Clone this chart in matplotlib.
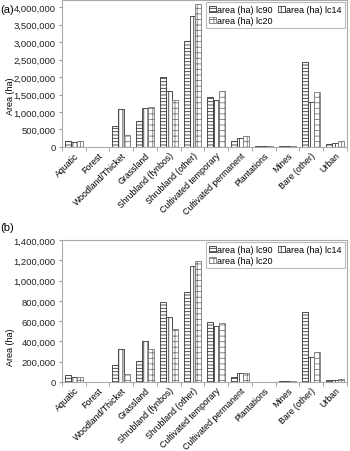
import matplotlib
matplotlib.use("Agg")
import matplotlib.pyplot as plt
import numpy as np
from matplotlib.ticker import FuncFormatter, MultipleLocator

plt.rcParams['font.family'] = ['Liberation Sans', 'DejaVu Sans']
plt.rcParams['hatch.linewidth'] = 0.6

categories = ["Aquatic", "Forest", "Woodland/Thicket", "Grassland", "Shrubland (fynbos)",
              "Shrubland (other)", "Cultivated temporary", "Cultivated permanent",
              "Plantations", "Mines", "Bare (other)", "Urban"]
series_names = ["area (ha) lc90", "area (ha) lc14", "area (ha) lc20"]

# panel (a)
a_lc90 = [160000, 2000, 600000, 740000, 2010000, 3020000, 1430000, 180000, 30000, 30000, 2420000, 90000]
a_lc14 = [130000, 2000, 1080000, 1120000, 1590000, 3740000, 1350000, 260000, 30000, 30000, 1280000, 110000]
a_lc20 = [160000, 2000, 350000, 1140000, 1330000, 4080000, 1600000, 310000, 30000, 30000, 1570000, 160000]

# panel (b)
b_lc90 = [69000, 1000, 165000, 210000, 790000, 890000, 590000, 50000, 3000, 8000, 690000, 16000]
b_lc14 = [50000, 1000, 330000, 400000, 640000, 1140000, 550000, 86000, 3000, 8000, 250000, 23000]
b_lc20 = [50000, 1000, 80000, 330000, 520000, 1190000, 580000, 86000, 3000, 8000, 300000, 30000]

hatches = ['-----', '||||', '+++']
edges = ['#333333', '#333333', '#777777']

fig = plt.figure(figsize=(3.5, 4.52), dpi=100)
ax1 = fig.add_axes([0.177, 0.6726, 0.814, 0.325])
ax2 = fig.add_axes([0.177, 0.1527, 0.814, 0.314])

x = np.arange(len(categories))
w = 0.25


def draw(ax, data, ymax, step, label_y):
    bars = []
    for i, vals in enumerate(data):
        b = ax.bar(x + (i - 1) * w, vals, w, color='white', edgecolor=edges[i],
                   hatch=hatches[i], linewidth=0.6, label=series_names[i])
        bars.append(b)
    ax.set_xlim(-0.5, len(categories) - 0.5)
    ax.set_ylim(0, ymax)
    ax.yaxis.set_major_locator(MultipleLocator(step))
    ax.yaxis.set_major_formatter(FuncFormatter(lambda v, p: f"{int(v):,}"))
    ax.set_xticks(x)
    ax.set_xticklabels(categories, rotation=45, ha='right', rotation_mode='anchor', fontsize=6.3)
    ax.set_xticks(np.arange(-0.5, len(categories)), minor=True)
    ax.tick_params(axis='x', which='major', length=0, pad=2.5)
    ax.tick_params(axis='x', which='minor', length=3, color='#999999')
    ax.tick_params(axis='y', length=2.5, color='#999999', labelsize=6.8, pad=2, labelcolor='#222222')
    for s in ax.spines.values():
        s.set_color('#aaaaaa')
        s.set_linewidth(0.8)
    ax.set_ylabel('Area (ha)', fontsize=6.5)
    ax.yaxis.set_label_coords(-0.165, label_y)
    leg = ax.legend([bars[0], bars[2], bars[1]], [series_names[0], series_names[2], series_names[1]],
                    ncol=2, loc='upper right', fontsize=6.5, fancybox=False, edgecolor='#aaaaaa',
                    handlelength=0.7, handleheight=0.7, handletextpad=0.2, columnspacing=0.6,
                    borderpad=0.35, labelspacing=0.25, borderaxespad=0.2)
    leg.get_frame().set_linewidth(0.8)


draw(ax1, [a_lc90, a_lc14, a_lc20], 4200000, 500000, 0.35)
draw(ax2, [b_lc90, b_lc14, b_lc20], 1400000, 200000, 0.25)

fig.text(0.0, 0.988, '(a)', fontsize=8, va='top')
fig.text(0.0, 0.506, '(b)', fontsize=8, va='top')

fig.savefig('out.png', dpi=100)
